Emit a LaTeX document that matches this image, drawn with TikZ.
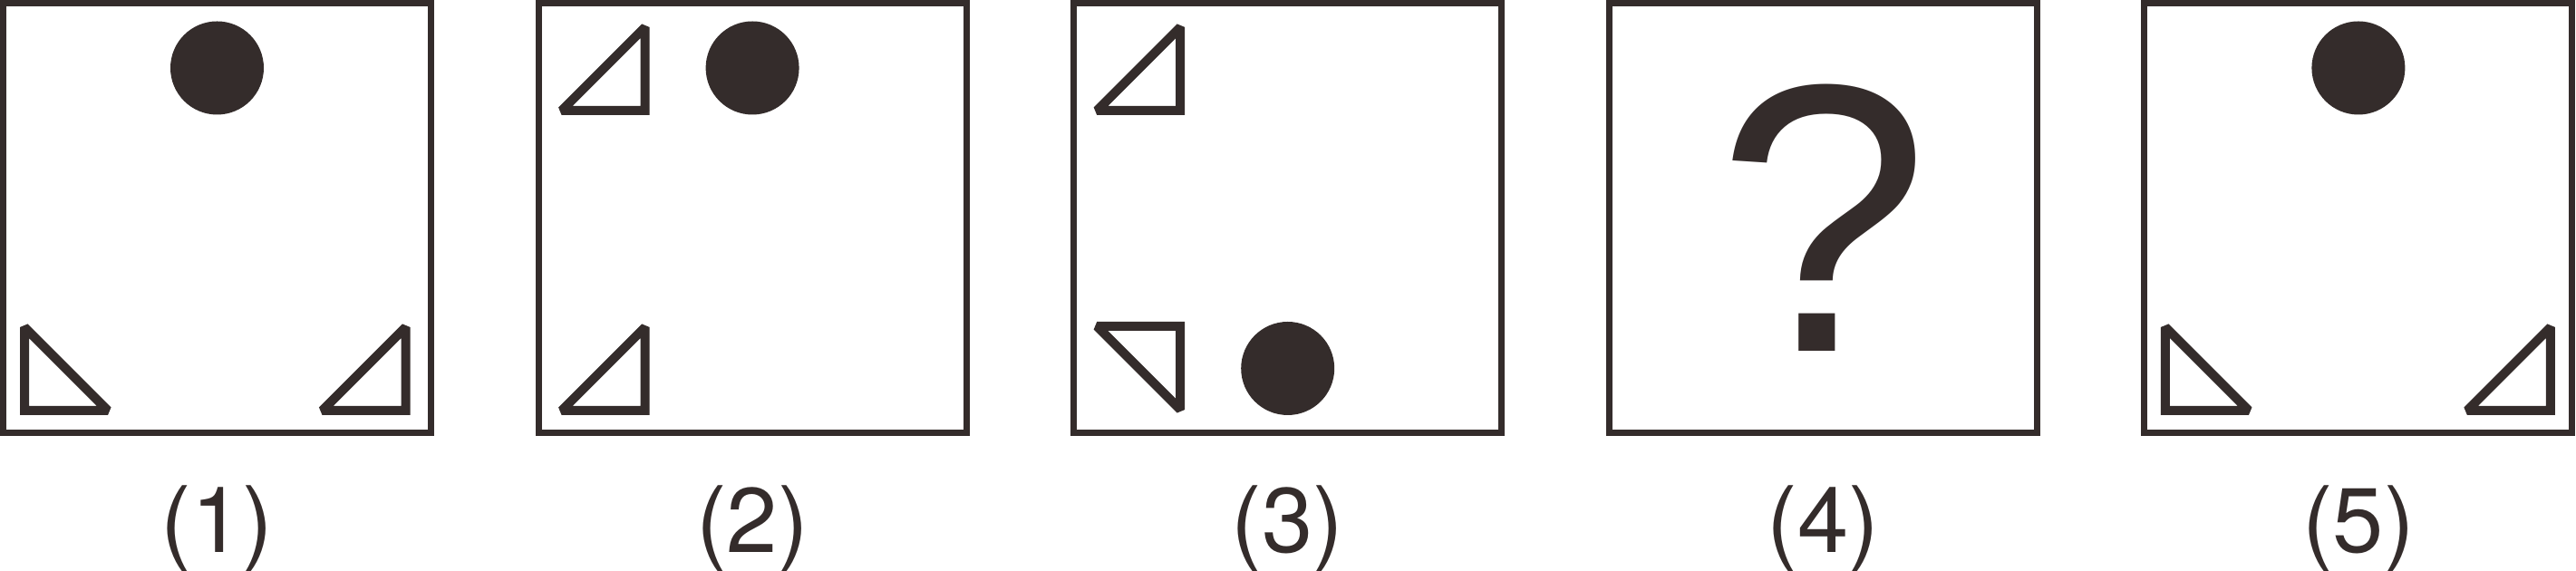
\documentclass[tikz,border=0pt]{standalone}
\usepackage{fontspec}
\setmainfont{TeX Gyre Heros}
\newfontfamily\qfont{Liberation Sans}
\usetikzlibrary{positioning}
\definecolor{figink}{RGB}{52,44,43}

\begin{document}
\begin{tikzpicture}[
      panel/.style={rectangle, draw=figink, line width=0.07cm, outer sep=0pt, inner sep=0pt,
                    minimum width=4.72cm, minimum height=4.74cm},
      tri/.style={draw=figink, line width=0.1cm, miter limit=2},
      dot/.style={fill=figink},
      lbl/.style={text=figink, inner sep=0pt, font=\fontsize{28.8}{30}\selectfont},
      qmark/.style={text=figink, inner sep=0pt, font=\qfont\fontsize{120}{120}\selectfont}]
    \useasboundingbox (0,0) rectangle (28.42,6.30);
    \node[panel] (p1) at (2.395,3.895) {};
    \node[panel, right=1.186cm of p1] (p2) {};
    \node[panel, right=1.186cm of p2] (p3) {};
    \node[panel, right=1.186cm of p3] (p4) {};
    \node[panel, right=1.186cm of p4] (p5) {};
    \begin{scope}[shift={(p1.center)}]
      \draw[tri] (-2.125,-2.125) -- (-2.125,-1.205) -- (-1.205,-2.125) -- cycle;
      \draw[tri] (2.08,-2.125) -- (2.08,-1.205) -- (1.16,-2.125) -- cycle;
      \fill[dot] (0,1.655) circle (0.515);
    \end{scope}
    \begin{scope}[shift={(p2.center)}]
      \draw[tri] (-1.185,1.185) -- (-1.185,2.105) -- (-2.105,1.185) -- cycle;
      \draw[tri] (-1.185,-2.125) -- (-1.185,-1.205) -- (-2.105,-2.125) -- cycle;
      \fill[dot] (0,1.655) circle (0.515);
    \end{scope}
    \begin{scope}[shift={(p3.center)}]
      \draw[tri] (-1.185,1.185) -- (-1.185,2.105) -- (-2.105,1.185) -- cycle;
      \draw[tri] (-1.185,-1.195) -- (-1.185,-2.115) -- (-2.105,-1.195) -- cycle;
      \fill[dot] (0,-1.66) circle (0.515);
    \end{scope}
    \node[qmark] (q) at (p4.center) {?};
    \begin{scope}[shift={(p5.center)}]
      \draw[tri] (-2.13,-2.125) -- (-2.13,-1.205) -- (-1.21,-2.125) -- cycle;
      \draw[tri] (2.12,-2.125) -- (2.12,-1.205) -- (1.20,-2.125) -- cycle;
      \fill[dot] (0,1.655) circle (0.515);
    \end{scope}
    \node[lbl, below=1.325cm of p1, anchor=base] (l1) {(1)};
    \node[lbl, below=1.325cm of p2, anchor=base] (l2) {(2)};
    \node[lbl, below=1.325cm of p3, anchor=base] (l3) {(3)};
    \node[lbl, below=1.325cm of p4, anchor=base] (l4) {(4)};
    \node[lbl, below=1.325cm of p5, anchor=base] (l5) {(5)};
  \end{tikzpicture}
\end{document}
